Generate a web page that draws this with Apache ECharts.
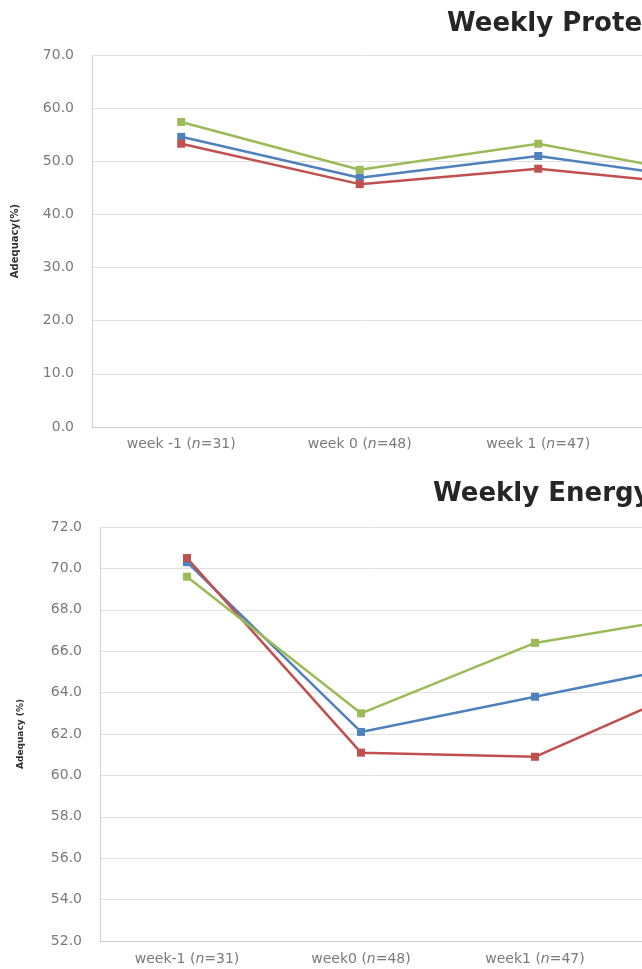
<!DOCTYPE html>
<html><head><meta charset="utf-8">
<script src="https://cdn.jsdelivr.net/npm/echarts@6/dist/echarts.min.js"></script>
<style>html,body{margin:0;padding:0;background:#fff}#c{width:642px;height:969px}</style>
</head><body><div id="c"></div>
<script>
const proteinCats = ['week -1|31', 'week 0|48', 'week 1|47', 'week 2|40'];
const proteinBlue = [54.6, 46.9, 51.0, 46.3];
const proteinRed = [53.3, 45.7, 48.6, 45.3];
const proteinGreen = [57.4, 48.4, 53.3, 47.0];

const energyCats = ['week-1|31', 'week0|48', 'week1|47', 'week2|40'];
const energyBlue = [70.3, 62.1, 63.8, 65.5];
const energyRed = [70.5, 61.1, 60.9, 64.6];
const energyGreen = [69.6, 63.0, 66.4, 67.8];

const BLUE = '#4F81BD', RED = '#C0504D', GREEN = '#9BBB59';
const chart = echarts.init(document.getElementById('c'));
const FONT = 'DejaVu Sans';
function catLabel(margin) {
  return {
    color: '#7a7a7a', fontSize: 14, fontFamily: FONT, margin,
    formatter: v => { const p = v.split('|'); return p[0] + ' ({i|n}=' + p[1] + ')'; },
    rich: { i: { fontStyle: 'italic', color: '#7a7a7a', fontSize: 14, fontFamily: FONT } }
  };
}
function ser(name, data, color, idx) {
  return { name, type: 'line', data, xAxisIndex: idx, yAxisIndex: idx,
    symbol: 'rect', symbolSize: 8, lineStyle: { color, width: 2.5 },
    itemStyle: { color }, animation: false };
}
chart.setOption({
  animation: false,
  title: [
    { text: 'Weekly Protein Adequacy', left: 442, top: 6,
      textStyle: { fontFamily: FONT, fontWeight: 'bold', fontSize: 26, color: '#262626' } },
    { text: 'Weekly Energy Adequacy', left: 428, top: 476,
      textStyle: { fontFamily: FONT, fontWeight: 'bold', fontSize: 26, color: '#262626' } }
  ],
  grid: [
    { left: 92, top: 55, height: 372, width: 714, outerBoundsMode: 'none', containLabel: false },
    { left: 100, top: 527, height: 414, width: 696, outerBoundsMode: 'none', containLabel: false }
  ],
  xAxis: [
    { type: 'category', gridIndex: 0, data: proteinCats, boundaryGap: true,
      axisLine: { lineStyle: { color: '#d0d0d0' } }, axisTick: { show: false }, axisLabel: catLabel(10) },
    { type: 'category', gridIndex: 1, data: energyCats, boundaryGap: true,
      axisLine: { lineStyle: { color: '#d0d0d0' } }, axisTick: { show: false }, axisLabel: catLabel(11) }
  ],
  yAxis: [
    { type: 'value', gridIndex: 0, min: 0, max: 70, interval: 10,
      name: 'Adequacy(%)', nameLocation: 'middle', nameGap: 72,
      nameTextStyle: { fontSize: 10, fontWeight: 'bold', color: '#333', fontFamily: FONT },
      axisLine: { show: true, lineStyle: { color: '#d0d0d0' } }, axisTick: { show: false },
      splitLine: { lineStyle: { color: '#e0e0e0' } },
      axisLabel: { color: '#7a7a7a', fontSize: 14, fontFamily: FONT, margin: 18, formatter: v => v.toFixed(1) } },
    { type: 'value', gridIndex: 1, min: 52, max: 72, interval: 2,
      name: 'Adequacy (%)', nameLocation: 'middle', nameGap: 75,
      nameTextStyle: { fontSize: 9, fontWeight: 'bold', color: '#333', fontFamily: FONT },
      axisLine: { show: true, lineStyle: { color: '#d0d0d0' } }, axisTick: { show: false },
      splitLine: { lineStyle: { color: '#e0e0e0' } },
      axisLabel: { color: '#7a7a7a', fontSize: 14, fontFamily: FONT, margin: 18, formatter: v => v.toFixed(1) } }
  ],
  series: [
    ser('Blue', proteinBlue, BLUE, 0),
    ser('Red', proteinRed, RED, 0),
    ser('Green', proteinGreen, GREEN, 0),
    ser('Blue', energyBlue, BLUE, 1),
    ser('Red', energyRed, RED, 1),
    ser('Green', energyGreen, GREEN, 1)
  ]
});
</script></body></html>
